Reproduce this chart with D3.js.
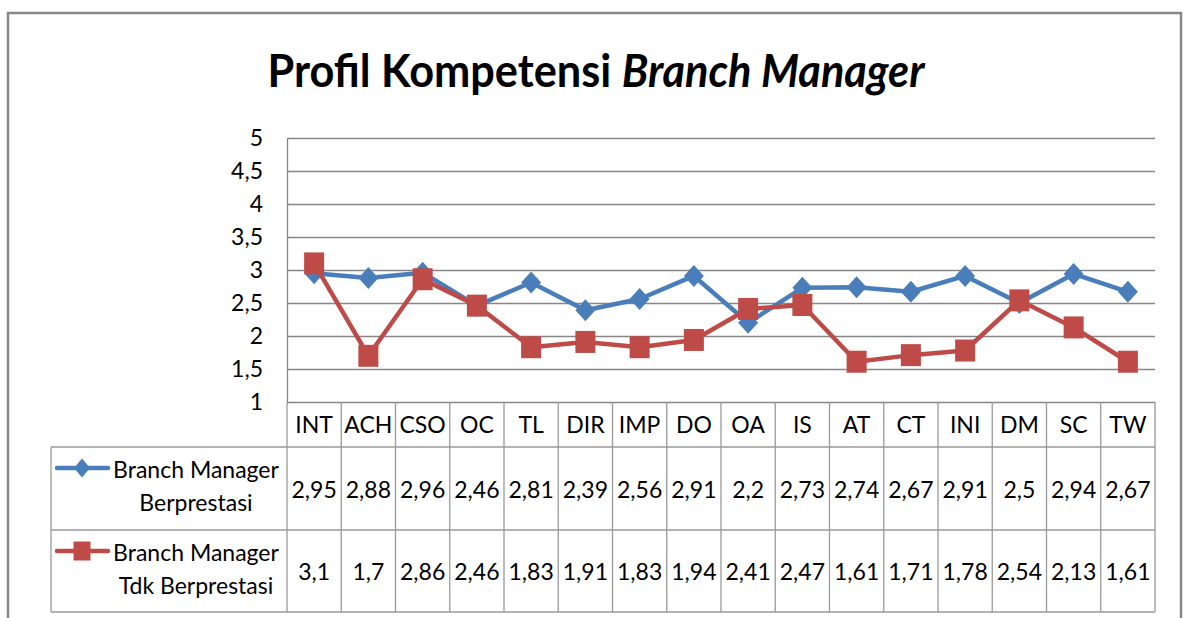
<!DOCTYPE html>
<html>
<head>
<meta charset="utf-8">
<script src="https://cdn.jsdelivr.net/npm/d3@7"></script>
<style>
  body { margin: 0; background: #fff; }
  text { font-family: Lato, "Open Sans", sans-serif; fill: #000; }
</style>
</head>
<body>
<svg id="drawing_region"></svg>
<script>
var categories = ['INT', 'ACH', 'CSO', 'OC', 'TL', 'DIR', 'IMP', 'DO', 'OA', 'IS', 'AT', 'CT', 'INI', 'DM', 'SC', 'TW'];
var berprestasi = [2.95, 2.88, 2.96, 2.46, 2.81, 2.39, 2.56, 2.91, 2.2, 2.73, 2.74, 2.67, 2.91, 2.5, 2.94, 2.67];
var tdkBerprestasi = [3.1, 1.7, 2.86, 2.46, 1.83, 1.91, 1.83, 1.94, 2.41, 2.47, 1.61, 1.71, 1.78, 2.54, 2.13, 1.61];
var seriesLabels = [['Branch Manager', 'Berprestasi'], ['Branch Manager', 'Tdk Berprestasi']];
var yTicks = [1, 1.5, 2, 2.5, 3, 3.5, 4, 4.5, 5];

var series = [
    { name: seriesLabels[0], values: berprestasi, color: '#4A7EBB', shape: 'diamond' },
    { name: seriesLabels[1], values: tdkBerprestasi, color: '#BE4B48', shape: 'square' }
];

var W = 1184, H = 618;
var plot = { left: 287, right: 1155, top: 138, bottom: 402 };
var table = { left: 51, row1: 447, row2: 530, bottom: 612 };

var locale = d3.formatLocale({ decimal: ',', thousands: '.', grouping: [3], currency: ['', ''] });
var fmt = locale.format('.3~r');

var svg = d3.select('#drawing_region')
    .attr('width', W)
    .attr('height', H);

// outer frame
svg.append('rect')
    .attr('x', 8).attr('y', 13)
    .attr('width', 1173).attr('height', 640)
    .attr('fill', '#fff')
    .attr('stroke', '#878787')
    .attr('stroke-width', 2.5);

// title
var title = svg.append('text')
    .attr('x', 596)
    .attr('y', 87)
    .attr('text-anchor', 'middle')
    .style('font-size', '46px')
    .style('font-weight', 'bold');
title.append('tspan').text('Profil Kompetensi ');
title.append('tspan').style('font-style', 'italic').text('Branch Manager');
if (title.node().getComputedTextLength() > 657) {
    title.attr('textLength', 657).attr('lengthAdjust', 'spacingAndGlyphs');
}

var xScale = d3.scaleBand()
    .domain(categories)
    .range([plot.left, plot.right]);

var yScale = d3.scaleLinear()
    .domain([1, 5])
    .range([plot.bottom, plot.top]);

// gridlines + y axis labels
var yAxis = svg.append('g')
    .attr('transform', 'translate(' + plot.left + ',0)')
    .call(d3.axisLeft(yScale)
        .tickValues(yTicks)
        .tickFormat(fmt)
        .tickSizeInner(-(plot.right - plot.left))
        .tickSizeOuter(0)
        .tickPadding(24));
yAxis.select('.domain').attr('stroke', '#868686').attr('stroke-width', 1.3);
yAxis.selectAll('.tick line').attr('stroke', '#868686').attr('stroke-width', 1.3);
yAxis.selectAll('.tick text')
    .attr('fill', '#000')
    .style('font-family', 'Lato, sans-serif')
    .style('font-size', '23px');

// data table grid
var tableColor = '#9a9a9a';
var grid = svg.append('g').attr('stroke', tableColor).attr('stroke-width', 1.3);
var bounds = categories.map(d => xScale(d)).concat([plot.right]);
grid.selectAll('.vline')
    .data(bounds)
    .enter()
    .append('line')
    .attr('x1', d => d).attr('x2', d => d)
    .attr('y1', plot.bottom).attr('y2', table.bottom);
grid.append('line')
    .attr('x1', table.left).attr('x2', table.left)
    .attr('y1', table.row1).attr('y2', table.bottom);
grid.selectAll('.hline')
    .data([table.row1, table.row2, table.bottom])
    .enter()
    .append('line')
    .attr('x1', table.left).attr('x2', plot.right)
    .attr('y1', d => d).attr('y2', d => d);

// category header
svg.append('g').selectAll('text')
    .data(categories)
    .enter()
    .append('text')
    .attr('x', d => xScale(d) + xScale.bandwidth() / 2)
    .attr('y', 433)
    .attr('text-anchor', 'middle')
    .style('font-size', '23px')
    .text(d => d);

function markerPath(shape, hw, hh) {
    if (shape === 'diamond') {
        return 'M0,' + (-hh) + 'L' + hw + ',0L0,' + hh + 'L' + (-hw) + ',0Z';
    }
    return 'M' + (-hw) + ',' + (-hh) + 'H' + hw + 'V' + hh + 'H' + (-hw) + 'Z';
}

var rowTops = [table.row1, table.row2];

series.forEach(function(s, i) {
    var line = d3.line()
        .x((d, j) => xScale(categories[j]) + xScale.bandwidth() / 2)
        .y(d => yScale(d));

    svg.append('path')
        .datum(s.values)
        .attr('fill', 'none')
        .attr('stroke', s.color)
        .attr('stroke-width', 4.5)
        .attr('stroke-linejoin', 'round')
        .attr('d', line);

    svg.append('g').selectAll('path')
        .data(s.values)
        .enter()
        .append('path')
        .attr('transform', (d, j) => 'translate(' + (xScale(categories[j]) + xScale.bandwidth() / 2) + ',' + yScale(d) + ')')
        .attr('d', s.shape === 'diamond' ? markerPath('diamond', 10, 11) : markerPath('square', 10, 11))
        .attr('fill', s.color);

    var top = rowTops[i];
    var rowH = (i === 0 ? table.row2 : table.bottom) - top;
    var mid = top + rowH / 2;

    // values row
    svg.append('g').selectAll('text')
        .data(s.values)
        .enter()
        .append('text')
        .attr('x', (d, j) => xScale(categories[j]) + xScale.bandwidth() / 2)
        .attr('y', mid + 9)
        .attr('text-anchor', 'middle')
        .style('font-size', '23px')
        .text(d => fmt(d));

    // legend key
    var ky = top + 21;
    svg.append('line')
        .attr('x1', 57).attr('x2', 108)
        .attr('y1', ky).attr('y2', ky)
        .attr('stroke', s.color)
        .attr('stroke-width', 4.5)
        .attr('stroke-linecap', 'round');
    svg.append('path')
        .attr('transform', 'translate(82,' + ky + ')')
        .attr('d', s.shape === 'diamond' ? markerPath('diamond', 8, 9.5) : markerPath('square', 8.5, 9.5))
        .attr('fill', s.color);

    svg.append('g').selectAll('text')
        .data(s.name)
        .enter()
        .append('text')
        .attr('x', 196)
        .attr('y', (d, k) => top + 31 + k * 33)
        .attr('text-anchor', 'middle')
        .style('font-size', '23px')
        .text(d => d);
});
</script>
</body>
</html>
